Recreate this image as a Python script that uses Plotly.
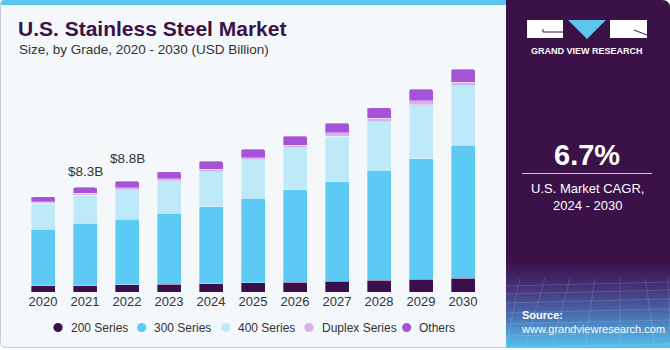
import plotly.graph_objects as go

# ---------------- data ----------------
years = ["2020", "2021", "2022", "2023", "2024", "2025", "2026", "2027", "2028", "2029", "2030"]
series_names = ["200 Series", "300 Series", "400 Series", "Duplex Series", "Others"]
s200 = [0.48, 0.50, 0.56, 0.61, 0.66, 0.74, 0.79, 0.87, 0.95, 1.03, 1.11]
s300 = [4.50, 4.95, 5.22, 5.64, 6.11, 6.70, 7.33, 7.88, 8.71, 9.55, 10.53]
s400 = [2.06, 2.24, 2.35, 2.59, 2.78, 3.04, 3.33, 3.63, 3.86, 4.29, 4.73]
sdup = [0.13, 0.13, 0.16, 0.13, 0.19, 0.18, 0.21, 0.24, 0.27, 0.29, 0.29]
soth = [0.40, 0.48, 0.51, 0.56, 0.63, 0.67, 0.71, 0.77, 0.82, 0.93, 1.03]
value_label_years = ["2021", "2022"]
value_label_texts = ["$8.3B", "$8.8B"]
cagr_text = "6.7%"
cagr_caption = "U.S. Market CAGR,<br>2024 - 2030"
title_text = "U.S. Stainless Steel Market"
subtitle_text = "Size, by Grade, 2020 - 2030 (USD Billion)"

# ---------------- style ----------------
colors = ["#3B0F4B", "#5CCAF5", "#BEE9F9", "#D8B0EE", "#A653D9"]
PURPLE = "#3A1248"
TXT = "#333333"
FONT = "Liberation Sans, Arial, sans-serif"

W, H = 670, 350
L, R, T, B = 22, 484, 40, 292  # plot area in pixels


def px(x):
    return (x - L) / (R - L)


def py(y):
    return (B - y) / (B - T)


def rrect_path(x0, y0, x1, y1, rtl=0, rtr=0, rbr=0, rbl=0):
    pts = []
    pts.append(f"M{px(x0 + rtl)},{py(y0)}")
    pts.append(f"L{px(x1 - rtr)},{py(y0)}")
    if rtr:
        pts.append(f"Q{px(x1)},{py(y0)} {px(x1)},{py(y0 + rtr)}")
    pts.append(f"L{px(x1)},{py(y1 - rbr)}")
    if rbr:
        pts.append(f"Q{px(x1)},{py(y1)} {px(x1 - rbr)},{py(y1)}")
    pts.append(f"L{px(x0 + rbl)},{py(y1)}")
    if rbl:
        pts.append(f"Q{px(x0)},{py(y1)} {px(x0)},{py(y1 - rbl)}")
    pts.append(f"L{px(x0)},{py(y0 + rtl)}")
    if rtl:
        pts.append(f"Q{px(x0)},{py(y0)} {px(x0 + rtl)},{py(y0)}")
    pts.append("Z")
    return " ".join(pts)


def hex2rgb(h):
    h = h.lstrip("#")
    return tuple(int(h[i:i + 2], 16) for i in (0, 2, 4))


def interp_color(stops, y):
    for (ya, ca), (yb, cb) in zip(stops[:-1], stops[1:]):
        if ya <= y <= yb:
            t = (y - ya) / (yb - ya)
            a, b = hex2rgb(ca), hex2rgb(cb)
            return "rgb({},{},{})".format(*[round(a[i] + (b[i] - a[i]) * t) for i in range(3)])
    return stops[-1][1]


fig = go.Figure()
all_series = [s200, s300, s400, sdup, soth]
for name, vals, col in zip(series_names, all_series, colors):
    fig.add_trace(go.Bar(
        x=years, y=vals, name=name, marker_color=col,
        marker_line=dict(width=0.6, color="rgba(255,255,255,0.55)"),
        showlegend=False, hoverinfo="skip",
    ))

shapes = []
# card background
shapes.append(dict(type="path", xref="paper", yref="paper", layer="below",
                   path=rrect_path(0.5, 0.5, 669.5, 347.5, 6, 8, 6, 6),
                   fillcolor="#F4F8FB", line=dict(color="#C9CDD1", width=1)))
# top blue strip
shapes.append(dict(type="path", xref="paper", yref="paper", layer="below",
                   path=rrect_path(0.5, 0, 506, 5, 4, 0, 0, 0),
                   fillcolor="#5CC6EF", line=dict(width=0)))
# right panel
shapes.append(dict(type="path", xref="paper", yref="paper", layer="below",
                   path=rrect_path(506, 0, 670, 347.5, 0, 8, 0, 0),
                   fillcolor=PURPLE, line=dict(width=0)))
# gradient at bottom of panel
stops = [(262, "#3A1248"), (292, "#463A80"), (318, "#4A75B7"), (347.5, "#55C2EE")]
y = 262.0
step = 2.5
while y < 347.5:
    y2 = min(y + step, 347.5)
    shapes.append(dict(type="rect", xref="paper", yref="paper", layer="below",
                       x0=px(506), x1=px(670), y0=py(y), y1=py(y2 + 0.4),
                       fillcolor=interp_color(stops, (y + y2) / 2), line=dict(width=0)))
    y = y2
# faint grid texture
for gy in [284, 292, 301, 311, 322, 334, 346]:
    shapes.append(dict(type="line", xref="paper", yref="paper", layer="below",
                       x0=px(506), x1=px(670), y0=py(gy + 2), y1=py(gy - 2),
                       line=dict(color="rgba(255,255,255,0.13)", width=1)))
for xt, xb in [(520, 506), (545, 525), (570, 552), (595, 585), (620, 620), (645, 655), (668, 690)]:
    shapes.append(dict(type="line", xref="paper", yref="paper", layer="below",
                       x0=px(xt), x1=px(min(xb, 670)), y0=py(278), y1=py(347 if xb <= 670 else 330),
                       line=dict(color="rgba(255,255,255,0.13)", width=1)))
# logo
shapes.append(dict(type="rect", xref="paper", yref="paper", layer="below",
                   x0=px(527), x1=px(563), y0=py(20), y1=py(38), fillcolor="white", line=dict(width=0)))
shapes.append(dict(type="path", xref="paper", yref="paper", layer="below",
                   path=f"M{px(543)},{py(29)} L{px(543)},{py(32)} L{px(563)},{py(32)}",
                   line=dict(color=PURPLE, width=1)))
shapes.append(dict(type="path", xref="paper", yref="paper", layer="below",
                   path=f"M{px(568)},{py(20)} L{px(606)},{py(20)} L{px(587)},{py(39)} Z",
                   fillcolor="#5CC6EF", line=dict(width=0)))
shapes.append(dict(type="rect", xref="paper", yref="paper", layer="below",
                   x0=px(610), x1=px(647), y0=py(20), y1=py(38), fillcolor="white", line=dict(width=0)))
shapes.append(dict(type="path", xref="paper", yref="paper", layer="below",
                   path=f"M{px(634)},{py(30)} L{px(647)},{py(35)}",
                   line=dict(color=PURPLE, width=1)))
# divider under CAGR
shapes.append(dict(type="line", xref="paper", yref="paper",
                   x0=px(522), x1=px(652), y0=py(173.5), y1=py(173.5),
                   line=dict(color="#C9C2D2", width=1)))

annotations = []
annotations.append(dict(text=f"<b>{title_text}</b>", x=px(16), y=py(29), xref="paper", yref="paper",
                        xanchor="left", yanchor="middle", showarrow=False,
                        font=dict(family=FONT, size=21, color=PURPLE)))
annotations.append(dict(text=subtitle_text, x=px(16.5), y=py(49), xref="paper", yref="paper",
                        xanchor="left", yanchor="middle", showarrow=False,
                        font=dict(family=FONT, size=13.5, color=TXT)))
# value labels
label_shift = {"2021": 16, "2022": 23}
totals = [sum(v) for v in zip(*all_series)]
for yr, txt in zip(value_label_years, value_label_texts):
    i = years.index(yr)
    annotations.append(dict(text=txt, x=i, y=totals[i], xref="x", yref="y",
                            yshift=label_shift[yr], xanchor="center", yanchor="middle",
                            showarrow=False, font=dict(family=FONT, size=13.5, color=TXT)))
# legend (manual, circle markers)
leg_x = [58, 141.7, 225.7, 309, 406.7]
leg_y = 327.5
for name, col, lx in zip(series_names, colors, leg_x):
    shapes.append(dict(type="circle", xref="paper", yref="paper",
                       x0=px(lx - 4.6), x1=px(lx + 4.6), y0=py(leg_y - 4.6), y1=py(leg_y + 4.6),
                       fillcolor=col, line=dict(width=0)))
    annotations.append(dict(text=name, x=px(lx + 10.5), y=py(leg_y), xref="paper", yref="paper",
                            xanchor="left", yanchor="middle", showarrow=False,
                            font=dict(family=FONT, size=12, color=TXT)))
# right panel texts
annotations.append(dict(text="<b>GRAND VIEW RESEARCH</b>", x=px(587), y=py(51), xref="paper", yref="paper",
                        xanchor="center", yanchor="middle", showarrow=False,
                        font=dict(family=FONT, size=9, color="white")))
annotations.append(dict(text=f"<b>{cagr_text}</b>", x=px(587), y=py(155), xref="paper", yref="paper",
                        xanchor="center", yanchor="middle", showarrow=False,
                        font=dict(family=FONT, size=29, color="white")))
annotations.append(dict(text=cagr_caption, x=px(587), y=py(196.5), xref="paper", yref="paper",
                        xanchor="center", yanchor="middle", showarrow=False,
                        font=dict(family=FONT, size=13, color="white")))
annotations.append(dict(text="<b>Source:</b><br>www.grandviewresearch.com", x=px(518.5), y=py(322),
                        xref="paper", yref="paper", xanchor="left", yanchor="middle", align="left",
                        showarrow=False, font=dict(family=FONT, size=11, color="white")))

fig.update_layout(
    width=W, height=H,
    margin=dict(l=L, r=W - R, t=T, b=H - B, pad=0),
    paper_bgcolor="white", plot_bgcolor="rgba(0,0,0,0)",
    barmode="stack", bargap=1 - 24 / 42, barcornerradius=2,
    showlegend=False,
    xaxis=dict(type="category", range=[-0.5, len(years) - 0.5], showgrid=False, zeroline=False,
               showline=False, ticks="", tickfont=dict(family=FONT, size=13, color=TXT),
               fixedrange=True),
    yaxis=dict(range=[0, 20], visible=False, fixedrange=True),
    shapes=shapes, annotations=annotations,
    font=dict(family=FONT),
)

fig.write_html("out.html", config={"displayModeBar": False})
